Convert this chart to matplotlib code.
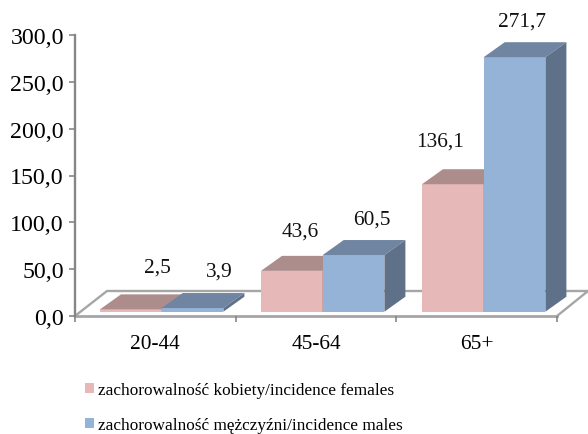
import matplotlib
matplotlib.use("Agg")
import matplotlib.pyplot as plt
from matplotlib.patches import Polygon, Patch
from matplotlib.ticker import FuncFormatter

plt.rcParams['font.family'] = ['Liberation Serif']

# Data
age_groups = ["20-44", "45-64", "65+"]
females = [2.5, 43.6, 136.1]
males = [3.9, 60.5, 271.7]
value_labels_f = ["2,5", "43,6", "136,1"]
value_labels_m = ["3,9", "60,5", "271,7"]
y_ticks = [0, 50, 100, 150, 200, 250, 300]
legend_labels = ["zachorowalność kobiety/incidence females",
                 "zachorowalność mężczyźni/incidence males"]

W, H = 588, 435
fig = plt.figure(figsize=(W / 100, H / 100), dpi=100)
# plot frame in pixels: x 75..557, y 317..36
ax = fig.add_axes([75 / W, (H - 317) / H, (557 - 75) / W, (317 - 36) / H])
ax.set_xlim(0, 3)
ax.set_ylim(0, 300)

# 3D look: offsets in data units
px_x = 3 / (557 - 75)
px_y = 300 / (317 - 36)
dx = 21 * px_x
dy = 15 * px_y
base = 4.3 * px_y
bar_w = 61.7 * px_x

grey = "#A6A6A6"
# floor
ax.plot([0, 32 * px_x, 3 + 31 * px_x, 3], [0, 25 * px_y, 25 * px_y, 0],
        color=grey, lw=1.7, clip_on=False, zorder=1, solid_joinstyle="miter")
ax.plot([0, 3], [0, 0], color=grey, lw=2.0, clip_on=False, zorder=1)


def draw_bar(x, v, front, top, side, z):
    ax.bar(x, v, bar_w, bottom=base, align="edge", color=front, zorder=z)
    y1 = base + v
    ax.add_patch(Polygon([(x, y1), (x + dx, y1 + dy), (x + bar_w + dx, y1 + dy), (x + bar_w, y1)],
                         closed=True, fc=top, ec="none", zorder=z, clip_on=False))
    ax.add_patch(Polygon([(x + bar_w, base), (x + bar_w + dx, base + dy), (x + bar_w + dx, y1 + dy), (x + bar_w, y1)],
                         closed=True, fc=side, ec="none", zorder=z, clip_on=False))


starts = [(100 - 75) * px_x, (261 - 75) * px_x, (422 - 75) * px_x]
for i in range(len(age_groups)):
    z = 3 + i
    draw_bar(starts[i], females[i], "#E6B9B8", "#AC8D8C", "#8F7372", z)
    draw_bar(starts[i] + bar_w, males[i], "#95B3D7", "#7085A1", "#5F7189", z + 0.5)

# value labels, offset from the bar top in pixels
off_f = [(27, 42), (8, 40), (-13, 43)]
off_m = [(27, 37), (18, 36), (7, 36)]
for i in range(len(age_groups)):
    ax.annotate(value_labels_f[i], (starts[i] + bar_w / 2, base + females[i]),
                xytext=(off_f[i][0] * 0.72, off_f[i][1] * 0.72), textcoords="offset points",
                ha="center", va="center", fontsize=15.4, color="#111111", zorder=10, annotation_clip=False)
    ax.annotate(value_labels_m[i], (starts[i] + bar_w * 1.5, base + males[i]),
                xytext=(off_m[i][0] * 0.72, off_m[i][1] * 0.72), textcoords="offset points",
                ha="center", va="center", fontsize=15.4, color="#111111", zorder=10, annotation_clip=False)

# axes
for s in ["top", "right", "bottom"]:
    ax.spines[s].set_visible(False)
ax.spines["left"].set_color("#868686")
ax.spines["left"].set_linewidth(1.7)
ax.patch.set_alpha(0)

ax.set_yticks(y_ticks)
ax.yaxis.set_major_formatter(FuncFormatter(lambda v, p: f"{v:.1f}".replace(".", ",")))
ax.tick_params(axis="y", length=4, width=1.2, color="#868686", labelsize=17.2, pad=4)
ax.set_xticks([0, 1, 2, 3])
ax.set_xticklabels([])
ax.set_xticks([0.5, 1.5, 2.5], labels=age_groups, minor=True)
ax.tick_params(axis="x", which="major", length=4, width=1.2, color="#868686")
ax.tick_params(axis="x", which="minor", length=0, labelsize=15.4, pad=13)

handles = [Patch(fc="#E6B9B8", ec="none"), Patch(fc="#95B3D7", ec="none")]
fig.legend(handles, legend_labels, loc="upper left", bbox_to_anchor=(85 / W, 1 - 383 / H),
           frameon=False, fontsize=12.45, handlelength=0.5, handleheight=0.52,
           handletextpad=0.26, labelspacing=1.12, borderpad=0, borderaxespad=0)

fig.savefig("out.png", dpi=100)
